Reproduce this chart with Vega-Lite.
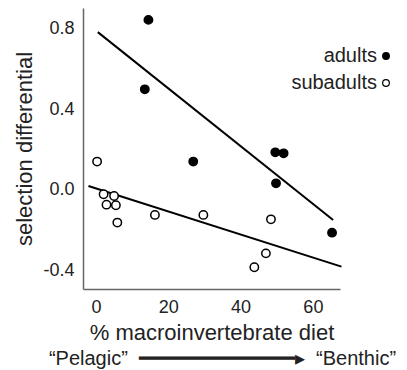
{
  "$schema": "https://vega.github.io/schema/vega-lite/v6.json",
  "width": 257,
  "height": 281,
  "autosize": {"type": "none"},
  "padding": {"left": 83, "top": 8, "right": 67, "bottom": 81},
  "background": "white",
  "config": {
    "view": {"stroke": null},
    "font": "Liberation Sans",
    "axis": {
      "grid": false,
      "ticks": false,
      "domainColor": "#666666",
      "domainWidth": 1.5,
      "labelFont": "Liberation Sans",
      "labelColor": "#222222",
      "labelFontSize": 18,
      "titleFont": "Liberation Sans",
      "titleFontSize": 22,
      "titleFontWeight": "normal",
      "titleColor": "#222222"
    },
    "legend": {
      "labelFont": "Liberation Sans",
      "labelFontSize": 20,
      "labelColor": "#222222"
    }
  },
  "title": {
    "text": "“Pelagic” \u00a0━━━━━━━━━━━━━▸\u00a0 “Benthic”",
    "orient": "bottom",
    "anchor": "middle",
    "frame": "group",
    "offset": 6,
    "dx": 11,
    "font": "Liberation Sans",
    "fontSize": 20,
    "fontWeight": "normal",
    "color": "#222222"
  },
  "datasets": {
    "points": [
      {"diet": 14.5, "sel": 0.845, "group": "adults"},
      {"diet": 13.5, "sel": 0.500, "group": "adults"},
      {"diet": 26.9, "sel": 0.141, "group": "adults"},
      {"diet": 49.6, "sel": 0.187, "group": "adults"},
      {"diet": 51.9, "sel": 0.182, "group": "adults"},
      {"diet": 49.8, "sel": 0.033, "group": "adults"},
      {"diet": 65.3, "sel": -0.212, "group": "adults"},
      {"diet": 0.3, "sel": 0.141, "group": "subadults"},
      {"diet": 2.1, "sel": -0.021, "group": "subadults"},
      {"diet": 5.0, "sel": -0.030, "group": "subadults"},
      {"diet": 2.9, "sel": -0.073, "group": "subadults"},
      {"diet": 5.5, "sel": -0.076, "group": "subadults"},
      {"diet": 5.9, "sel": -0.162, "group": "subadults"},
      {"diet": 16.3, "sel": -0.124, "group": "subadults"},
      {"diet": 29.7, "sel": -0.124, "group": "subadults"},
      {"diet": 48.4, "sel": -0.146, "group": "subadults"},
      {"diet": 47.0, "sel": -0.315, "group": "subadults"},
      {"diet": 43.8, "sel": -0.384, "group": "subadults"}
    ],
    "fits": [
      {"diet": 0.5, "sel": 0.784, "group": "adults"},
      {"diet": 65.6, "sel": -0.149, "group": "adults"},
      {"diet": -2.1, "sel": 0.020, "group": "subadults"},
      {"diet": 67.9, "sel": -0.381, "group": "subadults"}
    ]
  },
  "layer": [
    {
      "data": {"name": "fits"},
      "mark": {"type": "line", "color": "black", "strokeWidth": 2},
      "encoding": {
        "x": {"field": "diet", "type": "quantitative"},
        "y": {"field": "sel", "type": "quantitative"},
        "detail": {"field": "group"}
      }
    },
    {
      "data": {"name": "points"},
      "mark": {"type": "point", "shape": "circle", "filled": false, "stroke": "black", "strokeWidth": 1.5, "size": 70, "opacity": 1, "fillOpacity": 1},
      "encoding": {
        "x": {
          "field": "diet", "type": "quantitative",
          "scale": {"domain": [-3.6, 67.5], "nice": false, "zero": false},
          "axis": {"values": [0, 20, 40, 60], "title": "% macroinvertebrate diet", "labelPadding": 9, "titlePadding": 6}
        },
        "y": {
          "field": "sel", "type": "quantitative",
          "scale": {"domain": [-0.492, 0.904], "nice": false, "zero": false},
          "axis": {"values": [-0.4, 0, 0.4, 0.8], "format": ".1f", "labelExpr": "replace(datum.label, '−', '-')", "title": "selection differential", "labelPadding": 9, "titlePadding": 6}
        },
        "fill": {
          "field": "group", "type": "nominal",
          "scale": {"domain": ["adults", "subadults"], "range": ["black", "white"]},
          "legend": {
            "title": null,
            "orient": "none",
            "legendX": 293,
            "legendY": 38,
            "padding": 0,
            "symbolType": "circle",
            "symbolSize": 45,
            "symbolStrokeColor": "black",
            "symbolStrokeWidth": 1.2,
            "symbolOpacity": 1,
            "labelAlign": "right",
            "labelOffset": -19,
            "rowPadding": 7
          }
        }
      }
    }
  ]
}
